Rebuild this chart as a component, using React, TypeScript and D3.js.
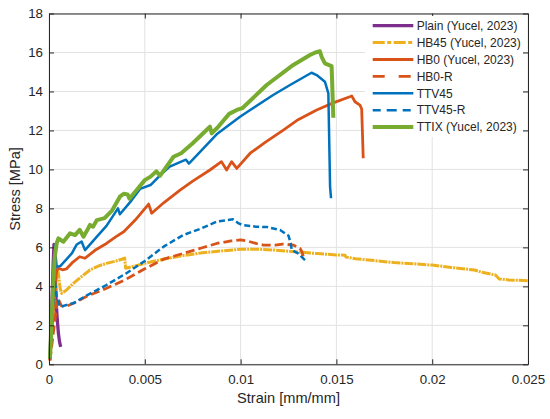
import { useEffect, useRef } from 'react';
import * as d3 from 'd3';

type Pt = [number, number];

// strain [mm/mm], stress [MPa]
const plain: Pt[] = [
    [0.00005, 0.3], [0.00015, 3.0], [0.00022, 5.2], [0.00026, 6.15], [0.00031, 5.2],
    [0.00037, 3.3], [0.00043, 2.3], [0.00049, 1.6], [0.00055, 1.15], [0.00061, 0.9],
];
const hb45: Pt[] = [
    [0.00005, 0.2], [0.00015, 1.5], [0.00025, 3.0], [0.00035, 4.2], [0.00045, 4.85],
    [0.0005, 4.6], [0.00058, 3.9], [0.00066, 3.64], [0.0009, 3.8], [0.00127, 4.15],
    [0.0017, 4.5], [0.00214, 4.84], [0.0026, 5.05], [0.003, 5.18], [0.0035, 5.3],
    [0.0038, 5.39], [0.00395, 5.45], [0.004, 4.93], [0.0045, 5.05], [0.005, 5.18],
    [0.006, 5.4], [0.007, 5.58], [0.008, 5.72], [0.009, 5.82], [0.01, 5.9],
    [0.011, 5.9], [0.0118, 5.86], [0.013, 5.76], [0.014, 5.68], [0.015, 5.61],
    [0.01545, 5.6], [0.0155, 5.5], [0.016, 5.42], [0.017, 5.32], [0.018, 5.22],
    [0.019, 5.16], [0.02, 5.09], [0.021, 4.97], [0.0222, 4.84], [0.0226, 4.72],
    [0.0233, 4.58], [0.0235, 4.38], [0.024, 4.33], [0.025, 4.29],
];
const hb0: Pt[] = [
    [0.00005, 0.2], [0.00015, 1.8], [0.0003, 3.8], [0.0004, 4.8], [0.0005, 4.93],
    [0.0007, 4.85], [0.00092, 4.9], [0.0012, 5.2], [0.0016, 5.52], [0.00188, 5.44],
    [0.0024, 5.85], [0.003, 6.2], [0.0035, 6.55], [0.0039, 6.8], [0.0045, 7.4],
    [0.0052, 8.22], [0.00536, 7.75], [0.006, 8.3], [0.00684, 8.94], [0.0075, 9.4],
    [0.0084, 9.97], [0.009, 10.4], [0.00927, 9.97], [0.00953, 10.4], [0.0098, 10.05],
    [0.0105, 10.83], [0.0113, 11.4], [0.01223, 12.02], [0.013, 12.55], [0.01397, 13.05],
    [0.0148, 13.4], [0.0157, 13.73], [0.0158, 13.77], [0.01597, 13.47], [0.01623, 13.3],
    [0.01632, 13.1], [0.0164, 10.57],
];
const hb0R: Pt[] = [
    [0.00005, 0.2], [0.00025, 1.8], [0.00045, 3.4], [0.0005, 3.3], [0.00065, 3.0],
    [0.00083, 2.95], [0.00127, 3.13], [0.002, 3.5], [0.003, 3.9], [0.004, 4.35],
    [0.005, 4.9], [0.006, 5.4], [0.007, 5.69], [0.008, 5.98], [0.00875, 6.2],
    [0.0095, 6.33], [0.01, 6.38], [0.0103, 6.34], [0.0108, 6.2], [0.0112, 6.12],
    [0.0118, 6.12], [0.0122, 6.17], [0.01275, 6.12], [0.0131, 5.95], [0.0132, 5.78],
    [0.01327, 5.52],
];
const ttv45: Pt[] = [
    [0.00005, 0.3], [0.00015, 2.5], [0.00025, 5.0], [0.0003, 6.1], [0.0004, 5.0],
    [0.0006, 5.05], [0.0012, 5.7], [0.00145, 6.15], [0.0017, 6.3], [0.00188, 5.86],
    [0.0025, 6.55], [0.003, 7.1], [0.0036, 8.0], [0.0037, 7.7], [0.0043, 8.4],
    [0.00475, 9.0], [0.0053, 9.2], [0.0058, 9.7], [0.0063, 10.14], [0.0069, 10.4],
    [0.00715, 10.5], [0.0073, 10.3], [0.0076, 10.6], [0.00875, 11.8], [0.00997, 12.7],
    [0.0105, 13.05], [0.0117, 13.82], [0.01258, 14.33], [0.0137, 14.96], [0.01397, 14.84],
    [0.0144, 14.5], [0.01458, 13.9], [0.01467, 9.1], [0.01472, 8.52],
];
const ttv45R: Pt[] = [
    [0.00005, 0.3], [0.0002, 2.8], [0.0003, 4.33], [0.0004, 3.5], [0.00057, 2.95],
    [0.00127, 3.13], [0.002, 3.55], [0.003, 4.07], [0.004, 4.65], [0.005, 5.3],
    [0.006, 6.05], [0.007, 6.63], [0.0079, 6.95], [0.00875, 7.32], [0.0096, 7.44],
    [0.0099, 7.23], [0.0101, 7.15], [0.0108, 7.06], [0.0114, 7.04], [0.01206, 6.89],
    [0.0125, 6.6], [0.01262, 6.2], [0.01267, 5.86], [0.013, 5.69], [0.01345, 5.26],
];
const ttix: Pt[] = [
    [0.00005, 0.3], [0.00015, 2.5], [0.00022, 4.15], [0.0003, 5.5], [0.0004, 6.2],
    [0.00049, 6.46], [0.00075, 6.29], [0.0011, 6.72], [0.00136, 6.63], [0.0016, 6.9],
    [0.0018, 6.55], [0.00205, 6.98], [0.00214, 7.15], [0.0023, 7.06], [0.0025, 7.4],
    [0.0029, 7.5], [0.0033, 7.9], [0.0037, 8.6], [0.0039, 8.75], [0.0041, 8.72],
    [0.0042, 8.5], [0.0045, 8.85], [0.005, 9.45], [0.0053, 9.63], [0.0056, 9.9],
    [0.0058, 9.68], [0.0065, 10.65], [0.0069, 10.83], [0.0075, 11.34], [0.0084, 12.19],
    [0.00849, 11.85], [0.0088, 12.15], [0.0094, 12.85], [0.0098, 13.05], [0.0101, 13.15],
    [0.01136, 14.33], [0.01275, 15.36], [0.01362, 15.87], [0.0139, 16.0], [0.01414, 16.06],
    [0.01423, 15.78], [0.0144, 15.44], [0.01475, 15.3], [0.01484, 12.65],
];

const seriesNames = ['Plain (Yucel, 2023)', 'HB45 (Yucel, 2023)', 'HB0 (Yucel, 2023)', 'HB0-R', 'TTV45', 'TTV45-R', 'TTIX (Yucel, 2023)'];
const xTicks = [0, 0.005, 0.01, 0.015, 0.02, 0.025];
const yTicks = [0, 2, 4, 6, 8, 10, 12, 14, 16, 18];

const styles = [
    { color: '#7E2F8E', width: 3.3, dash: null, legendDash: null },
    { color: '#EDB120', width: 3, dash: '9,1,2,1', legendDash: '12,2.5,4,2.5' },
    { color: '#D95319', width: 2.8, dash: null, legendDash: null },
    { color: '#D95319', width: 2.8, dash: '9,4', legendDash: '12,14' },
    { color: '#0072BD', width: 2.5, dash: null, legendDash: null },
    { color: '#0072BD', width: 2.5, dash: '6,3', legendDash: '8,6,10,6' },
    { color: '#77AC30', width: 4, dash: null, legendDash: null },
];

const App = () => {
    const ref = useRef<SVGSVGElement>(null);

    useEffect(() => {
        const svg = d3.select(ref.current);
        svg.selectAll('*').remove();
        const font = 'Liberation Sans, Arial, Helvetica, sans-serif';
        const left = 49, right = 528, top = 13.5, bottom = 364.3;

        const x = d3.scaleLinear().domain([0, 0.025]).range([left, right]);
        const y = d3.scaleLinear().domain([0, 18]).range([bottom, top]);

        // grid
        const grid = svg.append('g').attr('stroke', '#e2e2e2').attr('stroke-width', 1);
        xTicks.forEach(t => grid.append('line').attr('x1', x(t)).attr('x2', x(t)).attr('y1', top).attr('y2', bottom));
        yTicks.forEach(t => grid.append('line').attr('x1', left).attr('x2', right).attr('y1', y(t)).attr('y2', y(t)));

        // curves
        const data = [plain, hb45, hb0, hb0R, ttv45, ttv45R, ttix];
        const line = d3.line<Pt>().x(d => x(d[0])).y(d => y(d[1]));
        data.forEach((d, i) => {
            const s = styles[i];
            const p = svg.append('path')
                .datum(d)
                .attr('d', line)
                .attr('fill', 'none')
                .attr('stroke', s.color)
                .attr('stroke-width', s.width)
                .attr('stroke-linejoin', 'round');
            if (s.dash) p.attr('stroke-dasharray', s.dash);
        });

        // axes
        const axColor = '#262626';
        const bottomAxis = svg.append('g')
            .attr('transform', 'translate(0,' + bottom + ')')
            .call(d3.axisBottom(x).tickValues(xTicks).tickFormat(d => d3.format('~g')(d as number)).tickSizeInner(-5).tickSizeOuter(0).tickPadding(10));
        const topAxis = svg.append('g')
            .attr('transform', 'translate(0,' + top + ')')
            .call(d3.axisTop(x).tickValues(xTicks).tickFormat(() => '').tickSizeInner(-5).tickSizeOuter(0));
        const leftAxis = svg.append('g')
            .attr('transform', 'translate(' + left + ',0)')
            .call(d3.axisLeft(y).tickValues(yTicks).tickSizeInner(-5).tickSizeOuter(0).tickPadding(6));
        const rightAxis = svg.append('g')
            .attr('transform', 'translate(' + right + ',0)')
            .call(d3.axisRight(y).tickValues(yTicks).tickFormat(() => '').tickSizeInner(-5).tickSizeOuter(0));
        [bottomAxis, topAxis, leftAxis, rightAxis].forEach(a => {
            a.select('.domain').attr('stroke', axColor).attr('stroke-width', 1);
            a.selectAll('.tick line').attr('stroke', axColor).attr('stroke-width', 1);
            a.selectAll('.tick text').attr('fill', axColor).style('font-family', font).style('font-size', '13.3px');
        });

        svg.append('text')
            .attr('x', (left + right) / 2)
            .attr('y', 403)
            .attr('text-anchor', 'middle')
            .attr('fill', axColor)
            .style('font-family', font)
            .style('font-size', '14.6px')
            .text('Strain [mm/mm]');

        svg.append('text')
            .attr('transform', 'translate(19.5,' + (top + bottom) / 2 + ') rotate(-90)')
            .attr('text-anchor', 'middle')
            .attr('fill', axColor)
            .style('font-family', font)
            .style('font-size', '14.6px')
            .text('Stress [MPa]');

        // legend
        const lg = svg.append('g');
        lg.append('rect').attr('x', 365).attr('y', 16).attr('width', 158).attr('height', 121).attr('fill', '#ffffff');
        seriesNames.forEach((name, i) => {
            const s = styles[i];
            const ly = 25.7 + i * 16.9;
            const l = lg.append('line')
                .attr('x1', 372.7).attr('x2', 413.3).attr('y1', ly).attr('y2', ly)
                .attr('stroke', s.color).attr('stroke-width', s.width);
            if (s.legendDash) l.attr('stroke-dasharray', s.legendDash);
            lg.append('text')
                .attr('x', 416.7).attr('y', ly).attr('dy', '0.35em')
                .attr('fill', axColor)
                .style('font-family', font)
                .style('font-size', '12px')
                .text(name);
        });
    }, []);

    return (
        <svg ref={ref} width={550} height={419} style={{ position: 'absolute', left: 0, top: 0, background: '#ffffff' }} />
    );
};

export default App;
